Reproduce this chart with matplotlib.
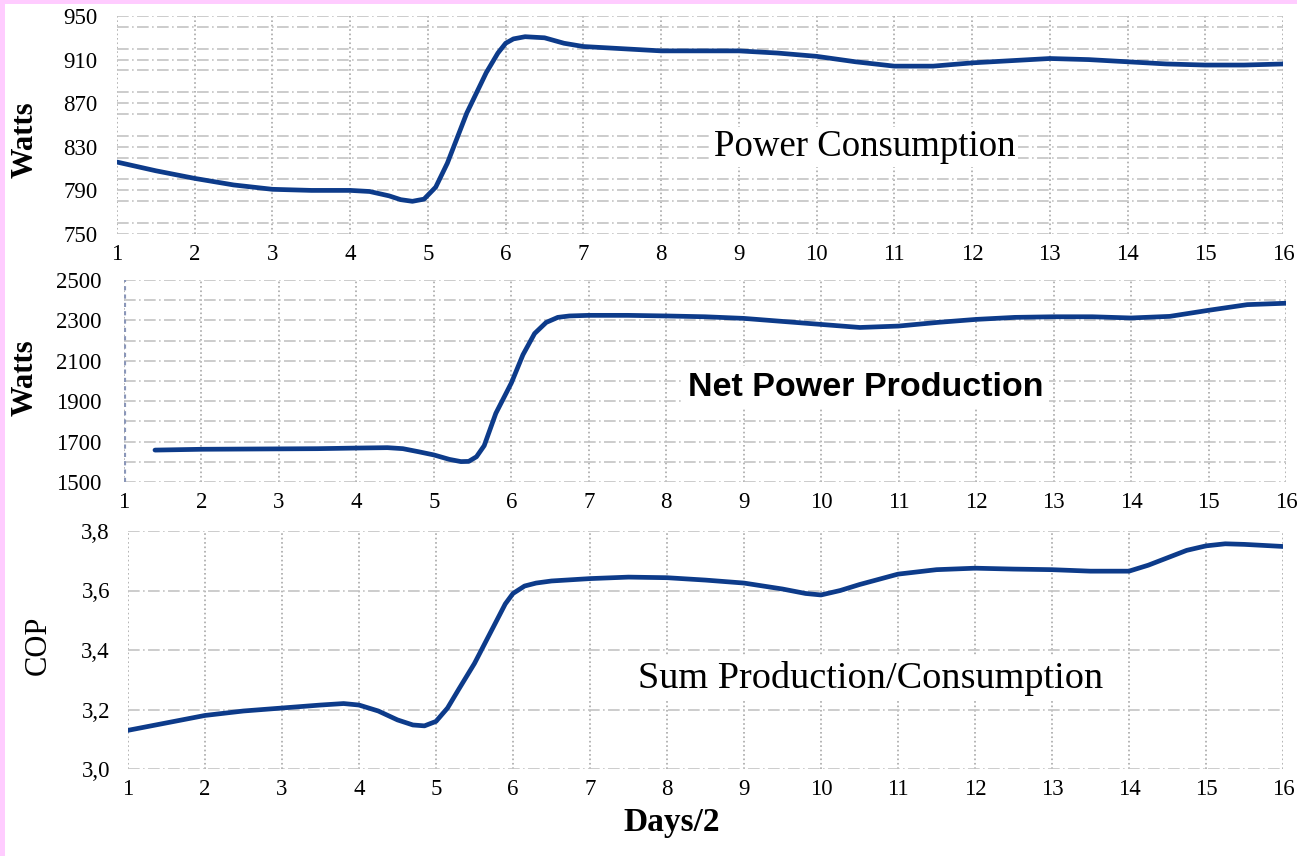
import matplotlib.pyplot as plt
from matplotlib.patches import Rectangle
from matplotlib.ticker import MultipleLocator, FuncFormatter

# Power consumption (Watts) vs days/2
pc_x = [1, 1.5, 2, 2.5, 3, 3.5, 4, 4.25, 4.5, 4.65, 4.8, 4.95, 5.1, 5.25, 5.5, 5.75,
        5.9, 6, 6.1, 6.25, 6.5, 6.75, 7, 7.5, 8, 8.5, 9, 9.5, 10, 10.5, 11, 11.5,
        12, 12.5, 13, 13.5, 14, 14.5, 15, 15.5, 16]
pc_y = [816, 808, 801, 795, 791, 790, 790, 789, 785, 781.5, 780, 782, 793, 815, 861, 898,
        916, 925, 929, 931, 930, 925, 922, 920, 918, 918, 918, 916, 913, 908, 904, 904,
        907, 909, 911, 910, 908, 906, 905, 905, 906]
pc_ticks = [750, 790, 830, 870, 910, 950]

# Net power production (Watts)
np_x = [1.4, 2, 2.5, 3, 3.5, 4, 4.4, 4.6, 4.8, 5, 5.2, 5.35, 5.45, 5.55, 5.65, 5.8,
        6, 6.15, 6.3, 6.45, 6.6, 6.75, 7, 7.5, 8, 8.5, 9, 9.5, 10, 10.5, 11, 11.5,
        12, 12.5, 13, 13.5, 14, 14.5, 15, 15.5, 16]
np_y = [1658, 1662, 1663, 1664, 1665, 1668, 1670, 1665, 1650, 1634, 1612, 1601, 1602,
        1625, 1680, 1840, 1990, 2130, 2235, 2290, 2315, 2322, 2325, 2325, 2322, 2318,
        2310, 2295, 2280, 2265, 2272, 2290, 2305, 2315, 2318, 2318, 2312, 2320, 2350,
        2378, 2385]
np_ticks = [1500, 1700, 1900, 2100, 2300, 2500]

# COP = production / consumption
cop_x = [1, 1.5, 2, 2.5, 3, 3.5, 3.8, 4, 4.25, 4.5, 4.7, 4.85, 5, 5.15, 5.3, 5.5, 5.75,
         5.9, 6, 6.15, 6.3, 6.5, 7, 7.5, 8, 8.5, 9, 9.5, 9.8, 10, 10.25, 10.5, 11,
         11.5, 12, 12.5, 13, 13.5, 14, 14.25, 14.5, 14.75, 15, 15.25, 15.5, 16]
cop_y = [3.13, 3.155, 3.18, 3.195, 3.205, 3.215, 3.22, 3.215, 3.195, 3.165, 3.148,
         3.145, 3.16, 3.205, 3.27, 3.355, 3.48, 3.555, 3.59, 3.615, 3.625, 3.632, 3.64,
         3.645, 3.643, 3.635, 3.625, 3.605, 3.59, 3.585, 3.6, 3.62, 3.655, 3.67, 3.675,
         3.672, 3.67, 3.665, 3.665, 3.685, 3.71, 3.735, 3.75, 3.757, 3.755, 3.748]
cop_ticks = [3.0, 3.2, 3.4, 3.6, 3.8]

days = list(range(1, 17))

LINE = '#0d3b8a'
SERIF = 'Liberation Serif'

fig = plt.figure(figsize=(12.97, 8.56), dpi=100)
fig.patch.set_facecolor('#ffccff')
fig.patches.append(Rectangle((5 / 1297, 0), 1, 1 - 4 / 856, transform=fig.transFigure,
                             facecolor='white', edgecolor='none', zorder=-10))


def setup_axes(rect, ylim, ticks, grid_step, ypad, fmt=None):
    ax = fig.add_axes(rect)
    ax.set_facecolor('none')
    ax.set_xlim(1, 16)
    ax.set_ylim(*ylim)
    for s in ax.spines.values():
        s.set_visible(False)
    ax.set_xticks(days)
    ax.set_yticks(ticks)
    ax.yaxis.set_minor_locator(MultipleLocator(grid_step))
    if fmt is not None:
        ax.yaxis.set_major_formatter(fmt)
    ax.tick_params(axis='both', which='both', length=0)
    ax.tick_params(axis='x', pad=7, labelsize=16.5)
    ax.tick_params(axis='y', pad=ypad, labelsize=16.5)
    for t in ax.get_xticklabels() + ax.get_yticklabels():
        t.set_fontfamily(SERIF)
    ax.grid(axis='x', which='major', color='#a8a8a8', linestyle=':', linewidth=1.2)
    ax.grid(axis='y', which='both', color='#c4c4c4', linestyle=(0, (7, 2, 1, 2)),
            linewidth=1.2)
    ax.set_axisbelow(True)
    return ax


def draw(ax, x, y):
    ax.plot(x, y, color=LINE, linewidth=3.4, solid_capstyle='round',
            solid_joinstyle='round', zorder=3)


ax1 = setup_axes([117 / 1297, 1 - 234 / 856, 1166 / 1297, 218 / 856],
                 (750, 950), pc_ticks, 20, 14)
draw(ax1, pc_x, pc_y)
ax1.text(0.641, 0.40, 'Power Consumption', transform=ax1.transAxes, ha='center',
         va='center', fontsize=26.5, fontfamily=SERIF, zorder=2,
         bbox=dict(facecolor='white', edgecolor='none', pad=2))

ax2 = setup_axes([124 / 1297, 1 - 482 / 856, 1162 / 1297, 202 / 856],
                 (1500, 2500), np_ticks, 100, 16)
ax2.axvline(1, color='#8a96b8', linestyle=(0, (1, 1)), linewidth=3, zorder=1)
draw(ax2, np_x, np_y)
ax2.text(0.638, 0.47, 'Net Power Production', transform=ax2.transAxes, ha='center',
         va='center', fontsize=24.5, fontweight='bold', fontfamily='Liberation Sans',
         zorder=2, bbox=dict(facecolor='white', edgecolor='none', pad=4))

comma = FuncFormatter(lambda v, p: f'{v:.1f}'.replace('.', ','))
ax3 = setup_axes([128 / 1297, 1 - 769 / 856, 1155 / 1297, 238 / 856],
                 (3.0, 3.8), cop_ticks, 0.2, 13, fmt=comma)
draw(ax3, cop_x, cop_y)
ax3.text(0.643, 0.382, 'Sum Production/Consumption', transform=ax3.transAxes,
         ha='center', va='center', fontsize=27.5, fontfamily=SERIF, zorder=2,
         bbox=dict(facecolor='white', edgecolor='none', pad=4))

fig.text(25 / 1297, 1 - 140 / 856, 'Watts', rotation=90, ha='center', va='center',
         fontsize=22, fontweight='bold', fontfamily=SERIF)
fig.text(25 / 1297, 1 - 378 / 856, 'Watts', rotation=90, ha='center', va='center',
         fontsize=22, fontweight='bold', fontfamily=SERIF)
fig.text(38 / 1297, 1 - 645 / 856, 'COP', rotation=90, ha='center', va='center',
         fontsize=22, fontfamily=SERIF)
fig.text(672 / 1297, 1 - 822 / 856, 'Days/2', ha='center', va='center',
         fontsize=24, fontweight='bold', fontfamily=SERIF)

fig.savefig('out.png', dpi=100, facecolor=fig.get_facecolor())
